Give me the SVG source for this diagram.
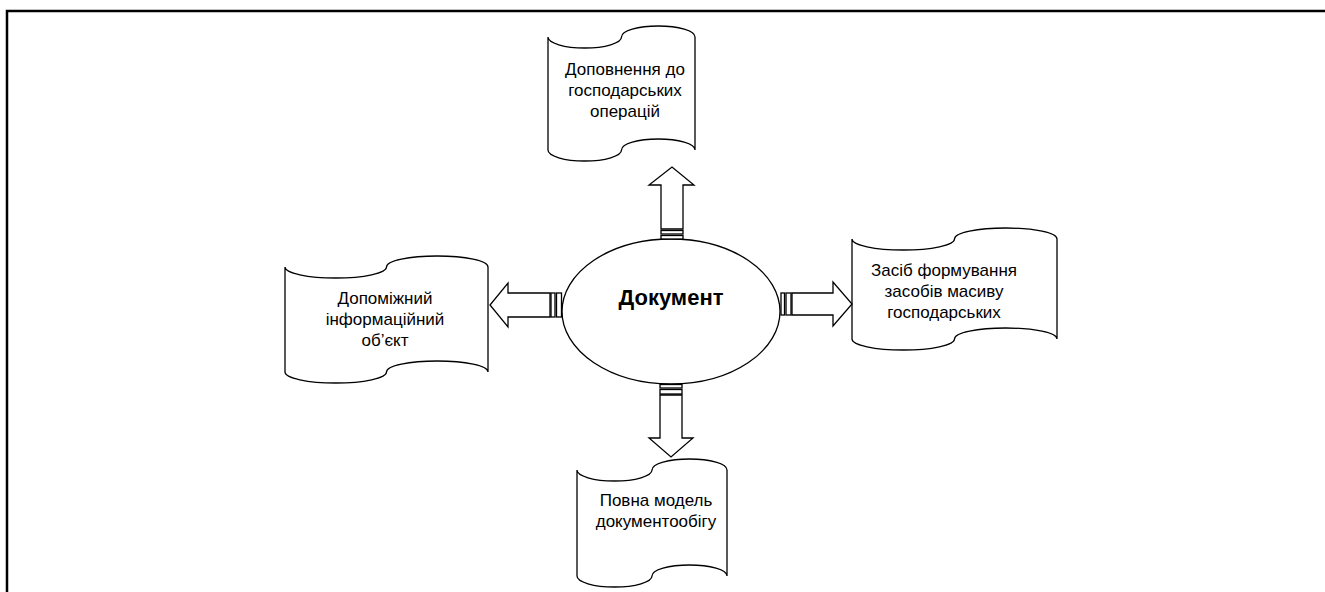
<svg xmlns="http://www.w3.org/2000/svg" width="1325" height="592" viewBox="0 0 1325 592">
<style>
.frame{fill:none;stroke:#000;stroke-width:2.5}
.shape{fill:#fff;stroke:#000;stroke-width:1.3}
.lbl{font-family:"Liberation Sans",Arial,sans-serif;font-size:17px;fill:#000;text-anchor:middle}
.title{font-family:"Liberation Sans",Arial,sans-serif;font-size:22px;font-weight:bold;fill:#000;text-anchor:middle}
</style>
<rect width="1325" height="592" fill="#fff"/>
<path class="frame" d="M7,592 V11 H1325"/>
<g id="node-top">
<path class="shape" d="M548,37 A36.75,11 0 0 0 621.5,37 A36.75,11 0 0 1 695,37 L695,150 A36.75,11 0 0 0 621.5,150 A36.75,11 0 0 1 548,150 Z"/>
<text class="lbl" x="625" y="75">Доповнення до</text>
<text class="lbl" x="625" y="96">господарських</text>
<text class="lbl" x="625" y="117">операцій</text>
</g>
<g id="node-left">
<path class="shape" d="M285,267 A50.75,11 0 0 0 386.5,267 A50.75,11 0 0 1 488,267 L488,372 A50.75,11 0 0 0 386.5,372 A50.75,11 0 0 1 285,372 Z"/>
<text class="lbl" x="385" y="304">Допоміжний</text>
<text class="lbl" x="385" y="325">інформаційний</text>
<text class="lbl" x="385" y="346">об’єкт</text>
</g>
<g id="node-right">
<path class="shape" d="M852,239 A51.25,11 0 0 0 954.5,239 A51.25,11 0 0 1 1057,239 L1057,339 A51.25,11 0 0 0 954.5,339 A51.25,11 0 0 1 852,339 Z"/>
<text class="lbl" x="944" y="276">Засіб формування</text>
<text class="lbl" x="944" y="297">засобів масиву</text>
<text class="lbl" x="944" y="318">господарських</text>
</g>
<g id="node-bottom">
<path class="shape" d="M577,470 A37.5,11 0 0 0 652,470 A37.5,11 0 0 1 727,470 L727,576 A37.5,11 0 0 0 652,576 A37.5,11 0 0 1 577,576 Z"/>
<text class="lbl" x="656" y="506">Повна модель</text>
<text class="lbl" x="656" y="527">документообігу</text>
</g>
<g id="node-center">
<ellipse class="shape" cx="671" cy="311.5" rx="109" ry="72.5"/>
<text class="title" x="671" y="305">Документ</text>
</g>
<g id="connectors">
<polygon class="shape" points="661,229 661,185 649,185 672,167 694,185 683,185 683,229"/>
<rect class="shape" x="661" y="230.5" width="22" height="3.5"/>
<rect class="shape" x="661" y="235.5" width="22" height="3.5"/>
<polygon class="shape" points="550,293 508,293 508,283 490,305 508,327 508,317 550,317"/>
<rect class="shape" x="551" y="293" width="4" height="24"/>
<rect class="shape" x="556.5" y="293" width="5" height="24"/>
<polygon class="shape" points="792,293 833,293 833,282 852,304 833,326 833,315 792,315"/>
<rect class="shape" x="781" y="293" width="3.5" height="22"/>
<rect class="shape" x="786" y="293" width="5" height="22"/>
<polygon class="shape" points="660,395 660,438 649,438 671,457 693,438 682,438 682,395"/>
<rect class="shape" x="660" y="384.5" width="22" height="3.5"/>
<rect class="shape" x="660" y="389.5" width="22" height="4.5"/>
</g>
</svg>
